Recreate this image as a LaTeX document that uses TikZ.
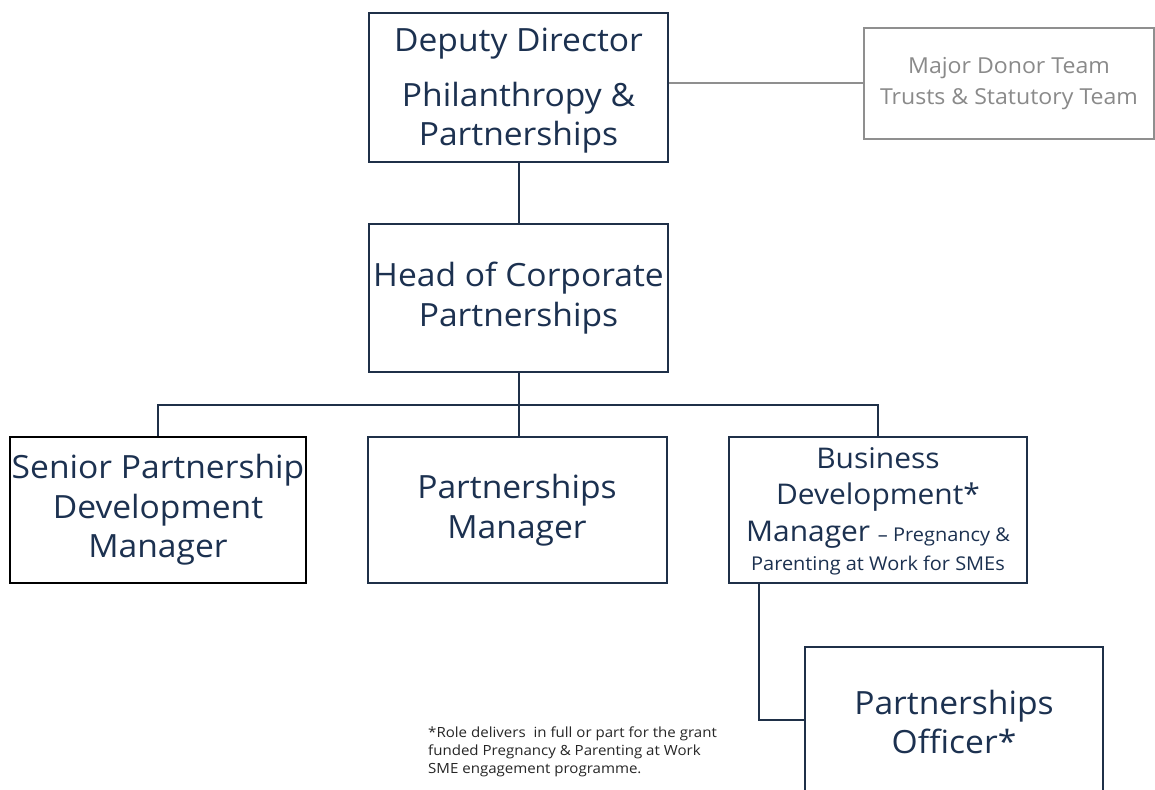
\documentclass[tikz,border=0pt]{standalone}
\usepackage{fontspec}
\setmainfont{Open Sans}[FakeStretch=1.05]
\newfontfamily\notefont{Open Sans}[FakeStretch=1.076]
\definecolor{navy}{HTML}{1C3150}
\definecolor{boxline}{HTML}{1F3048}
\definecolor{greyline}{HTML}{8F8F8F}
\definecolor{greytext}{HTML}{8A8A8A}
\definecolor{notetext}{HTML}{262626}
\tikzset{
  rolebox/.style={draw=boxline, line width=2pt, inner sep=0pt, align=center,
    text=navy, font=\fontsize{32}{39.5}\selectfont},
  teambox/.style={draw=greyline, line width=2pt, inner sep=0pt, align=center,
    text=greytext, font=\fontsize{22}{31}\selectfont},
  link/.style={draw=boxline, line width=2pt},
  greylink/.style={draw=greyline, line width=2pt}
}
\newcommand{\smalltxt}{\fontsize{19}{27}\selectfont}
\begin{document}
\begin{tikzpicture}[x=1pt,y=-1pt]
\useasboundingbox (0,0) rectangle (1155,789);
\clip (0,0) rectangle (1155,789);
\fill[white] (0,0) rectangle (1155,789);
\node[rolebox, minimum width=299pt, minimum height=149pt, font=\fontsize{32}{39}\selectfont] (dep) at (518.5,87.5)
  {\rule{0pt}{29pt}Deputy Director\\[16pt]Philanthropy \&\\Partnerships};
\node[teambox, minimum width=290pt, minimum height=110pt] (team) at (1009,83.5)
  {Major Donor Team\\Trusts \& Statutory Team};
\node[rolebox, minimum width=299pt, minimum height=148pt] (head) at (518.5,298)
  {Head of Corporate\\Partnerships};
\node[rolebox, draw=black, line width=2.4pt, minimum width=296pt, minimum height=146pt] (senior) at (158,510)
  {Senior Partnership\\Development\\Manager};
\node[rolebox, minimum width=299pt, minimum height=146pt] (pm) at (517,510)
  {Partnerships\\Manager};
\node[rolebox, minimum width=298pt, minimum height=146pt, font=\fontsize{28.5}{36.5}\selectfont] (bdm) at (878,510)
  {\rule{0pt}{24pt}Business\\Development*\\Manager {\smalltxt – Pregnancy \&}\\[-7pt]{\smalltxt Parenting at Work for SMEs}};
\node[rolebox, minimum width=298pt, minimum height=146pt] (po) at (954,720)
  {\rule{0pt}{28pt}Partnerships\\Officer*};
\node[anchor=north west, inner sep=0pt, align=left, text=notetext,
  font=\notefont\fontsize{14}{18}\selectfont] (note) at (428,727)
  {*Role delivers\ \ in full or part for the grant\\funded Pregnancy \& Parenting at Work\\SME engagement programme.};
\coordinate (busy) at (0,405);
\draw[greylink] (team.west -| dep.east) -- (team.west);
\draw[link] (dep.south) -- (head.north);
\draw[link] (head.south) -- (head.south |- pm.north);
\draw[link] (senior.north) -- (senior.north |- busy) -- (bdm.north |- busy) -- (bdm.north);
\draw[link] ([xshift=31pt]bdm.south west) |- (po.west);
\end{tikzpicture}
\end{document}
